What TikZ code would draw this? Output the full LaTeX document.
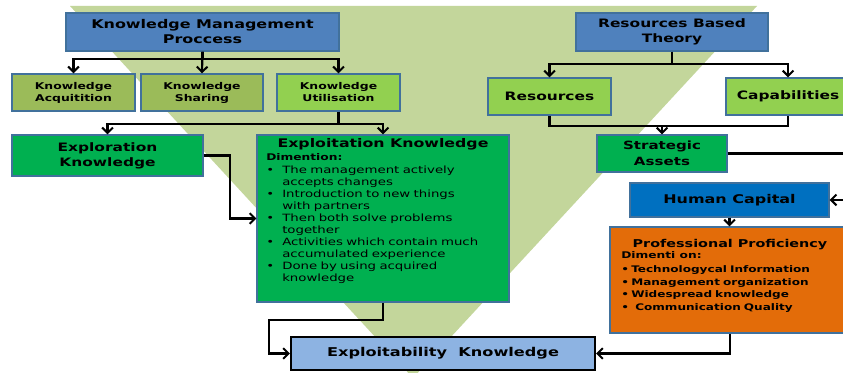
\documentclass[tikz,border=0pt]{standalone}
\usepackage{fontspec}
\setmainfont{DejaVu Sans}[FakeStretch=1.33]
\usetikzlibrary{arrows.meta}
\definecolor{tri}{HTML}{C3D69B}
\definecolor{blueA}{HTML}{4F81BD}
\definecolor{olive}{HTML}{9BBB59}
\definecolor{lime}{HTML}{92D050}
\definecolor{greenC}{HTML}{00B050}
\definecolor{blueH}{HTML}{0070C0}
\definecolor{orangeP}{HTML}{E36C09}
\definecolor{lightB}{HTML}{8DB3E2}
\definecolor{bordc}{HTML}{41719C}
\newcommand\myblt[1]{\makebox[#1][l]{\textbullet}}
\newcommand\myind{\hspace*{12pt}}
\tikzset{
  box/.style={draw=bordc, line width=1pt, inner sep=0pt, align=center},
  big/.style={font=\bfseries\fontsize{9}{11.25}\selectfont},
  mid/.style={font=\bfseries\fontsize{8.7}{11.4}\selectfont},
  small/.style={font=\bfseries\fontsize{7}{9}\selectfont},
  ln/.style={line width=1.6pt, black},
  arr/.style={line width=1.6pt, black, -{Straight Barb[length=4pt,width=8pt,line width=1.5pt]}}
}
\begin{document}
\begin{tikzpicture}[x=0.75pt,y=-0.75pt]
\useasboundingbox (0,0) rectangle (843,373);
\clip (0,0) rectangle (843,373);
\fill[white] (0,0) rectangle (843,373);
\fill[tri] (70,6) -- (757,6) -- (413,378) -- cycle;

% left tree
\node[box, big, fill=blueA, minimum width=204.75pt, minimum height=28.5pt] (kmp) at (202.5,32) {Knowledge Management\\Proccess};
\node[box, small, fill=olive, minimum width=92.25pt, minimum height=27.75pt] (ka) at (73.5,92.5) {Knowledge\\Acquitition};
\node[box, small, fill=olive, minimum width=91.5pt, minimum height=27.75pt] (ks) at (202,92.5) {Knowledge\\Sharing};
\node[box, small, fill=lime, minimum width=92.25pt, minimum height=27.75pt] (ku) at (338.5,92.5) {Knowledge\\Utilisation};
\node[box, mid, fill=greenC, minimum width=143.25pt, minimum height=30.75pt] (expr) at (107.5,155.5) {Exploration\\Knowledge};
\node[box, fill=greenC, minimum width=189pt, minimum height=125.25pt] (expt) at (383,218.5) {};
\node[anchor=base, inner sep=0pt, font=\bfseries\fontsize{8.9}{11}\selectfont] (exptt) at (383,148) {Exploitation Knowledge};
\node[anchor=base west, inner sep=0pt, font=\bfseries\fontsize{6.9}{9}\selectfont] (exptd) at (266,161) {Dimention:};
\node[anchor=base west, inner sep=0pt, text width=180pt, align=left, font=\fontsize{7.5}{9}\selectfont] (exptb) at (266,174) {%
\myblt{12pt}The management actively\\
\myind accepts changes\\
\myblt{12pt}Introduction to new things\\
\myind with partners\\
\myblt{12pt}Then both solve problems\\
\myind together\\
\myblt{12pt}Activities which contain much\\
\myind accumulated experience\\
\myblt{12pt}Done by using acquired\\
\myind knowledge};
\node[draw=black, line width=1.6pt, inner sep=0pt, fill=lightB, font=\bfseries\fontsize{9.1}{11}\selectfont, minimum width=228pt, minimum height=24.75pt] (exab) at (443,353.5) {Exploitability~ Knowledge};

% right tree
\node[box, mid, fill=blueA, minimum width=144pt, minimum height=28.5pt] (rbt) at (672,32) {Resources Based\\Theory};
\node[box, mid, fill=lime, minimum width=92.25pt, minimum height=27.75pt] (res) at (549.5,96.5) {Resources};
\node[box, mid, fill=lime, minimum width=93pt, minimum height=27.75pt] (cap) at (788,96.5) {Capabilities};
\node[box, font=\bfseries\fontsize{8.5}{11.6}\selectfont, fill=greenC, minimum width=97.5pt, minimum height=27.75pt] (sa) at (662,153.5) {Strategic\\Assets};
\node[box, big, fill=blueH, minimum width=149.25pt, minimum height=25.5pt] (hc) at (729.5,200) {Human Capital};
\node[box, fill=orangeP, minimum width=180pt, minimum height=79.5pt] (pp) at (730,280) {};
\node[anchor=base, inner sep=0pt, font=\bfseries\fontsize{8.1}{10}\selectfont] (ppt) at (730,248) {Professional Proficiency};
\node[anchor=base west, inner sep=0pt, font=\bfseries\fontsize{6.9}{9}\selectfont] (ppd) at (621,259) {Dimenti on:};
\node[anchor=base west, inner sep=0pt, text width=170pt, align=left, font=\bfseries\fontsize{6.8}{9.3}\selectfont] (ppb) at (621,273) {%
\myblt{7.5pt}Technologycal Information\\
\myblt{7.5pt}Management organization\\
\myblt{7.5pt}Widespread knowledge\\
\myblt{10.5pt}Communication Quality};

% connectors left
\draw[arr] (kmp.south) -- (ks.north);
\draw[arr] (kmp.south) -- ++(0,7) -| (ka.north);
\draw[arr] (kmp.south) -- ++(0,7) -| (ku.north);
\draw[ln] (ku.south) -- ++(0,12) coordinate (kuj);
\draw[arr] (kuj) -| (expr.north);
\draw[arr] (kuj) -| (expt.north);
\draw[arr] (expr.east) -- ++(26,0) |- (expt.west);
\draw[arr] (expt.south) -- ++(0,17) -- ++(-114,0) |- (exab.west);

% connectors right
\draw[arr] (rbt.south) -- ++(0,12) -| (res.north);
\draw[arr] (rbt.south) -- ++(0,12) -| (cap.north);
\draw[ln] (res.south) -- ++(0,10) coordinate (rj) -| (cap.south);
\draw[arr] (rj -| sa.north) -- (sa.north);
\draw[arr] (sa.east) -- ++(140,0) |- (hc.east);
\draw[arr] (hc.south) -- (hc.south |- pp.north);
\draw[arr] (pp.south) |- (exab.east);
\end{tikzpicture}
\end{document}
